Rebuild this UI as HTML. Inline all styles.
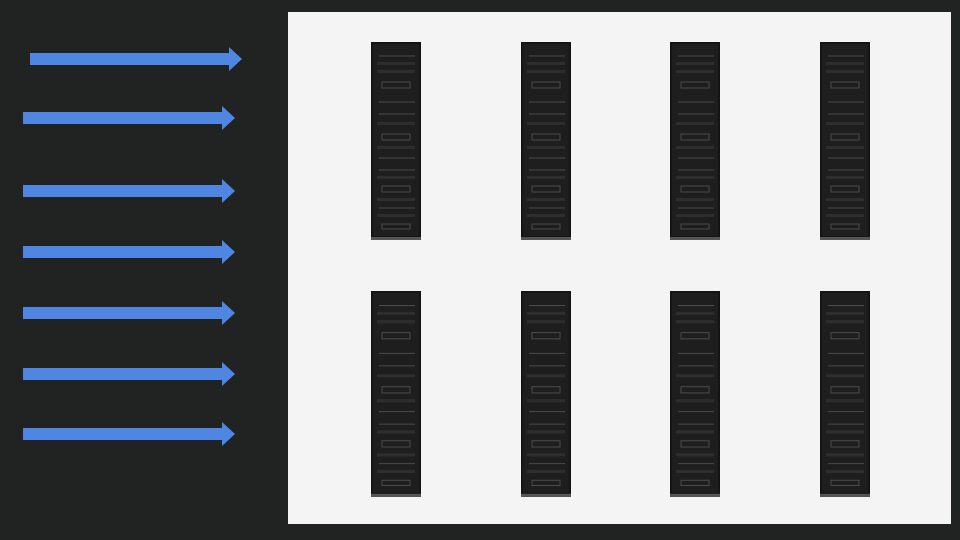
<!DOCTYPE html>
<html><head><style>
body{margin:0;width:960px;height:540px;background:#212222;overflow:hidden;position:relative;font-family:"Liberation Sans",sans-serif}
.panel{position:absolute;left:288px;top:12px;width:663px;height:512px;background:#f4f4f4}
</style></head><body>
<div class="panel"></div>
<svg width="960" height="540" style="position:absolute;left:0;top:0">
<defs>
<g id="rack">
<rect x="0" y="0" width="50" height="198" fill="#141414"/>
<rect x="2" y="2" width="46" height="192" fill="#1e1e1e"/>
<g stroke="#4a4a4a" stroke-width="1" fill="none">
<line x1="8" y1="14" x2="44" y2="14"/>
<rect x="11" y="40" width="28" height="6"/>
<line x1="8" y1="60" x2="44" y2="60"/>
<line x1="8" y1="72" x2="44" y2="72"/>
<rect x="11" y="92" width="28" height="6"/>
<line x1="8" y1="116" x2="44" y2="116"/>
<line x1="8" y1="128" x2="44" y2="128"/>
<rect x="11" y="144" width="28" height="6"/>
<line x1="8" y1="166" x2="44" y2="166"/>
<rect x="11" y="182" width="28" height="5"/>
</g>
<g fill="#2e2e2e">
<rect x="6" y="20" width="38" height="3"/><rect x="6" y="28" width="38" height="3"/>
<rect x="6" y="80" width="38" height="3"/><rect x="6" y="104" width="38" height="3"/>
<rect x="6" y="134" width="38" height="3"/><rect x="6" y="156" width="38" height="3"/>
<rect x="6" y="172" width="38" height="3"/>
</g>
<rect x="0" y="195" width="50" height="3" fill="#555"/>
</g>
<g id="rack2"><use href="#rack" transform="scale(1,1.04)"/></g>
<g id="arr"><rect x="0" y="0" width="200" height="12" fill="#4f86e2"/><polygon points="199,-6 212,6 199,18" fill="#4f86e2"/></g>
</defs>
<use href="#rack" x="371" y="42"/><use href="#rack" x="521" y="42"/><use href="#rack" x="670" y="42"/><use href="#rack" x="820" y="42"/>
<use href="#rack2" x="371" y="291"/><use href="#rack2" x="521" y="291"/><use href="#rack2" x="670" y="291"/><use href="#rack2" x="820" y="291"/>
<use href="#arr" x="30" y="53"/>
<use href="#arr" x="23" y="112"/>
<use href="#arr" x="23" y="185"/>
<use href="#arr" x="23" y="246"/>
<use href="#arr" x="23" y="307"/>
<use href="#arr" x="23" y="368"/>
<use href="#arr" x="23" y="428"/>
</svg>
</body></html>
